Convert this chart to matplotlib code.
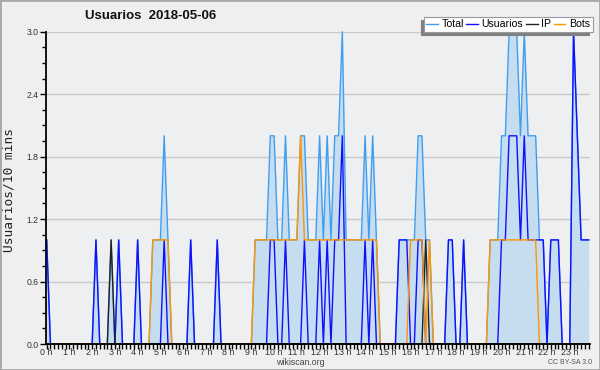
import matplotlib
matplotlib.use("Agg")
import matplotlib.pyplot as plt
from matplotlib.ticker import MultipleLocator, FormatStrFormatter
from matplotlib.lines import Line2D
from matplotlib.patches import Rectangle
import numpy as np

plt.rcParams['font.family'] = ['Liberation Sans', 'DejaVu Sans']

title = "Usuarios  2018-05-06"
ylabel = "Usuarios/10 mins"
series_names = ["Total", "Usuarios", "IP", "Bots"]
hour_labels = [f"{h} h" for h in range(24)]
y_ticks = [0.0, 0.6, 1.2, 1.8, 2.4, 3.0]

# one value per 10-minute slot (6 per hour, 24 hours)
total = [
    1, 0, 0, 0, 0, 0,   0, 0, 0, 0, 0, 0,   0, 1, 0, 0, 0, 1,   0, 1, 0, 0, 0, 0,
    1, 0, 0, 0, 1, 1,   1, 2, 1, 0, 0, 0,   0, 0, 1, 0, 0, 0,   0, 0, 0, 1, 0, 0,
    0, 0, 0, 0, 0, 0,   0, 1, 1, 1, 1, 2,   2, 1, 1, 2, 1, 1,   1, 2, 2, 1, 1, 1,
    2, 1, 2, 1, 2, 2,   3, 1, 1, 1, 1, 1,   2, 1, 2, 1, 0, 0,   0, 0, 0, 1, 1, 1,
    1, 1, 2, 2, 1, 1,   0, 0, 0, 0, 1, 1,   0, 0, 1, 0, 0, 0,   0, 0, 0, 1, 1, 1,
    2, 2, 3, 3, 3, 2,   3, 2, 2, 2, 1, 1,   0, 1, 1, 1, 0, 0,   0, 3, 2, 1, 1, 1,
]
usuarios = [
    1, 0, 0, 0, 0, 0,   0, 0, 0, 0, 0, 0,   0, 1, 0, 0, 0, 0,   0, 1, 0, 0, 0, 0,
    1, 0, 0, 0, 0, 0,   0, 1, 0, 0, 0, 0,   0, 0, 1, 0, 0, 0,   0, 0, 0, 1, 0, 0,
    0, 0, 0, 0, 0, 0,   0, 0, 0, 0, 0, 1,   1, 0, 0, 1, 0, 0,   0, 0, 1, 0, 0, 0,
    1, 0, 1, 0, 1, 1,   2, 0, 0, 0, 0, 0,   1, 0, 1, 0, 0, 0,   0, 0, 0, 1, 1, 1,
    0, 0, 1, 1, 0, 0,   0, 0, 0, 0, 1, 1,   0, 0, 1, 0, 0, 0,   0, 0, 0, 0, 0, 0,
    1, 1, 2, 2, 2, 1,   2, 1, 1, 1, 1, 1,   0, 1, 1, 1, 0, 0,   0, 3, 2, 1, 1, 1,
]
ip = [
    0, 0, 0, 0, 0, 0,   0, 0, 0, 0, 0, 0,   0, 0, 0, 0, 0, 1,   0, 0, 0, 0, 0, 0,
    0, 0, 0, 0, 0, 0,   0, 0, 0, 0, 0, 0,   0, 0, 0, 0, 0, 0,   0, 0, 0, 0, 0, 0,
    0, 0, 0, 0, 0, 0,   0, 0, 0, 0, 0, 0,   0, 0, 0, 0, 0, 0,   0, 0, 0, 0, 0, 0,
    0, 0, 0, 0, 0, 0,   0, 0, 0, 0, 0, 0,   0, 0, 0, 0, 0, 0,   0, 0, 0, 0, 0, 0,
    0, 0, 0, 0, 1, 0,   0, 0, 0, 0, 0, 0,   0, 0, 0, 0, 0, 0,   0, 0, 0, 0, 0, 0,
    0, 0, 0, 0, 0, 0,   0, 0, 0, 0, 0, 0,   0, 0, 0, 0, 0, 0,   0, 0, 0, 0, 0, 0,
]
bots = [
    0, 0, 0, 0, 0, 0,   0, 0, 0, 0, 0, 0,   0, 0, 0, 0, 0, 0,   0, 0, 0, 0, 0, 0,
    0, 0, 0, 0, 1, 1,   1, 1, 1, 0, 0, 0,   0, 0, 0, 0, 0, 0,   0, 0, 0, 0, 0, 0,
    0, 0, 0, 0, 0, 0,   0, 1, 1, 1, 1, 1,   1, 1, 1, 1, 1, 1,   1, 2, 1, 1, 1, 1,
    1, 1, 1, 1, 1, 1,   1, 1, 1, 1, 1, 1,   1, 1, 1, 1, 0, 0,   0, 0, 0, 0, 0, 0,
    1, 1, 1, 1, 0, 1,   0, 0, 0, 0, 0, 0,   0, 0, 0, 0, 0, 0,   0, 0, 0, 1, 1, 1,
    1, 1, 1, 1, 1, 1,   1, 1, 1, 1, 0, 0,   0, 0, 0, 0, 0, 0,   0, 0, 0, 0, 0, 0,
]

slots_per_hour = 6
x = np.arange(len(total)) / slots_per_hour

c_total = '#3f9ef2'
c_fill = '#c6ddf0'
c_user = '#1010ff'
c_ip = '#222222'
c_bots = '#ff9500'

W, H = 600, 370
fig = plt.figure(figsize=(W / 100, H / 100), dpi=100, facecolor='#efefef')
ax = fig.add_axes([46 / W, (H - 344) / H, 544 / W, (344 - 31.7) / H])
ax.set_facecolor('#eeeff1')

ax.fill_between(x, total, 0, color=c_fill, linewidth=0, zorder=1.5)
ax.plot(x, total, color=c_total, lw=1.0, zorder=2, clip_on=False)
ax.plot(x, usuarios, color=c_user, lw=1.0, zorder=2.1, clip_on=False)
ax.plot(x, ip, color=c_ip, lw=1.0, zorder=2.2, clip_on=False)
ax.plot(x, bots, color=c_bots, lw=1.0, zorder=2.3, clip_on=False)

ax.set_xlim(-0.03, 23.89)
ax.set_ylim(0, 3.0)

ax.set_xticks(range(24))
ax.set_xticklabels(hour_labels)
ax.xaxis.set_minor_locator(MultipleLocator(1 / slots_per_hour))
ax.set_yticks(y_ticks)
ax.yaxis.set_major_formatter(FormatStrFormatter('%.1f'))
ax.yaxis.set_minor_locator(MultipleLocator(0.15))

ax.tick_params(axis='x', which='both', direction='out', length=3.5, width=1.0,
               pad=-0.5, labelsize=6.4, labelcolor='#333333', color='black')
ax.tick_params(axis='y', which='major', direction='out', length=4, width=1.0,
               pad=1.5, labelsize=6.2, labelcolor='#333333')
ax.tick_params(axis='y', which='minor', direction='out', length=3, width=1.0)

for s in ['top', 'right']:
    ax.spines[s].set_visible(False)
for s in ['left', 'bottom']:
    ax.spines[s].set_color('black')
    ax.spines[s].set_linewidth(1.3)

ax.yaxis.grid(True, color='#c9c9c9', lw=1.0)
ax.set_axisbelow(True)

fig.text(151 / W, 1 - 16 / H, title, ha='center', va='center',
         fontweight='bold', fontsize=9.5, color='#111111')
fig.text(9 / W, 1 - 190 / H, ylabel, rotation=90, ha='center', va='center',
         fontsize=9.3, family=['DejaVu Sans Mono'], color='#222222')
fig.text(300 / W, 1 - 362.5 / H, 'wikiscan.org', ha='center', va='center',
         fontsize=6.3, color='#444444')
fig.text(592 / W, 1 - 363 / H, 'CC BY-SA 3.0', ha='right', va='center',
         fontsize=5, color='#555555')

handles = [Line2D([], [], color=c, lw=1.0) for c in [c_total, c_user, c_ip, c_bots]]
leg = ax.legend(handles, series_names, loc='upper right',
                bbox_to_anchor=(592.5 / W, 1 - 17.0 / H), bbox_transform=fig.transFigure,
                ncol=4, frameon=True, fancybox=False, edgecolor='#999999',
                facecolor='white', framealpha=1, borderpad=0.22, handlelength=1.1,
                handletextpad=0.35, columnspacing=0.25, fontsize=7.6, borderaxespad=0,
                shadow={'ox': -2.2, 'oy': -2.2, 'facecolor': '#808080',
                        'edgecolor': '#808080', 'alpha': 1})
leg.get_frame().set_linewidth(0.8)
leg.set_zorder(10)

fig.patches.append(Rectangle((0, 0), 1, 1, transform=fig.transFigure, fill=False,
                             edgecolor='#a8a8a8', lw=2))

fig.savefig('out.png', dpi=100, facecolor=fig.get_facecolor())
